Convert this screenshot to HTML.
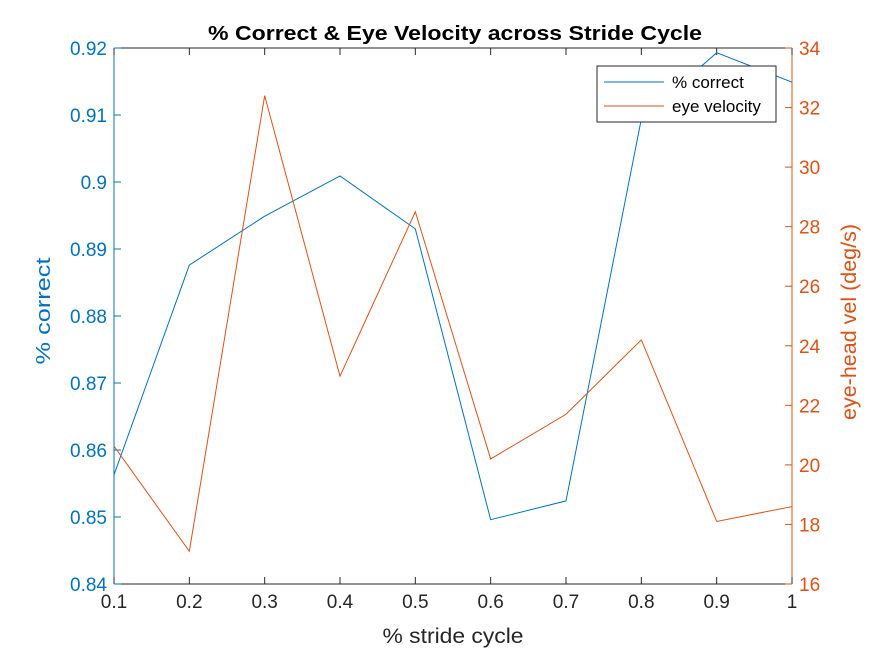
<!DOCTYPE html>
<html><head><meta charset="utf-8"><style>body{margin:0;background:#fff}svg{display:block;font-family:"Liberation Sans",Arial,sans-serif}</style></head>
<body>
<svg id="chart" width="875" height="656" viewBox="0 0 875 656">
<rect x="0" y="0" width="875" height="656" fill="#fff"/>
<rect x="114" y="48" width="678" height="536" fill="#fff"/>
<g id="axes"></g>
<g id="series"></g>
<text x="455" y="40" text-anchor="middle" font-size="20" font-weight="bold" fill="#000" textLength="494" lengthAdjust="spacingAndGlyphs">% Correct &amp; Eye Velocity across Stride Cycle</text>
<text x="453" y="643" text-anchor="middle" font-size="21" fill="#262626" textLength="141" lengthAdjust="spacingAndGlyphs">% stride cycle</text>
<text transform="translate(50,311) rotate(-90)" text-anchor="middle" font-size="20" fill="#0072BD" textLength="107" lengthAdjust="spacingAndGlyphs">% correct</text>
<text transform="translate(856,322) rotate(-90)" text-anchor="middle" font-size="21" fill="#D95319" textLength="196" lengthAdjust="spacingAndGlyphs">eye-head vel (deg/s)</text>
<g>
<rect x="597" y="66" width="179" height="56" fill="#fff" stroke="#262626" stroke-width="1"/>
<line x1="604" y1="82" x2="664" y2="82" stroke="#0072BD"/>
<text x="672" y="88" font-size="17" fill="#000">% correct</text>
<line x1="604" y1="106" x2="664" y2="106" stroke="#D95319"/>
<text x="672" y="112" font-size="17" fill="#000">eye velocity</text>
</g>
</svg>
<script>
const categories = [0.1,0.2,0.3,0.4,0.5,0.6,0.7,0.8,0.9,1.0];
const pctCorrect = [0.8563,0.8876,0.8949,0.9009,0.8930,0.8496,0.8524,0.9094,0.9193,0.9149];
const eyeVelocity = [20.63,17.1,32.4,22.98,28.5,20.2,21.7,24.2,18.1,18.6];
const xTicks = ["0.1","0.2","0.3","0.4","0.5","0.6","0.7","0.8","0.9","1"];
const leftTicks = ["0.84","0.85","0.86","0.87","0.88","0.89","0.9","0.91","0.92"];
const rightTicks = ["16","18","20","22","24","26","28","30","32","34"];

const L=114,R=792,T=48,B=584;
const xs=v=>L+(v-0.1)/(0.9)*(R-L);
const yl=v=>B-(v-0.84)/0.08*(B-T);
const yr=v=>B-(v-16)/18*(B-T);
const NS="http://www.w3.org/2000/svg";
function mk(tag,attrs,parent,txt){const e=document.createElementNS(NS,tag);for(const k in attrs)e.setAttribute(k,attrs[k]);if(txt!==undefined)e.textContent=txt;parent.appendChild(e);return e;}
const ax=document.getElementById('axes'), se=document.getElementById('series');

let e=mk('line',{x1:L,y1:B,x2:R,y2:B,stroke:'#262626'},ax);


e=mk('line',{x1:L,y1:T,x2:R,y2:T,stroke:'#262626'},ax);


e=mk('line',{x1:L,y1:T,x2:L,y2:B,stroke:'#0072BD'},ax);


e=mk('line',{x1:R,y1:T,x2:R,y2:B,stroke:'#D95319'},ax);



xTicks.forEach(t=>{const x=xs(parseFloat(t));
 let l=mk('line',{x1:x,y1:B,x2:x,y2:B-7,stroke:'#262626'},ax);
 
 
 let l2=mk('line',{x1:x,y1:T,x2:x,y2:T+7,stroke:'#262626'},ax);
 
 
 let s=mk('text',{x:x,y:B+24,'text-anchor':'middle','font-size':19,fill:'#262626'},ax,t);
 
 });
leftTicks.forEach(t=>{const y=yl(parseFloat(t));
 let l=mk('line',{x1:L,y1:y,x2:L+7,y2:y,stroke:'#0072BD'},ax);
 
 
 let s=mk('text',{x:L-7,y:y+7,'text-anchor':'end','font-size':19,fill:'#0072BD'},ax,t);
 
 });
rightTicks.forEach(t=>{const y=yr(parseFloat(t));
 let l=mk('line',{x1:R,y1:y,x2:R-7,y2:y,stroke:'#D95319'},ax);
 
 
 let s=mk('text',{x:R+7,y:y+7,'text-anchor':'start','font-size':19,fill:'#D95319'},ax,t);
 
 });

let p1=mk('polyline',{points:categories.map((c,i)=>xs(c)+','+yl(pctCorrect[i])).join(' '),fill:'none',stroke:'#0072BD','stroke-width':1},se);


let p2=mk('polyline',{points:categories.map((c,i)=>xs(c)+','+yr(eyeVelocity[i])).join(' '),fill:'none',stroke:'#D95319','stroke-width':1},se);


</script>
</body></html>
